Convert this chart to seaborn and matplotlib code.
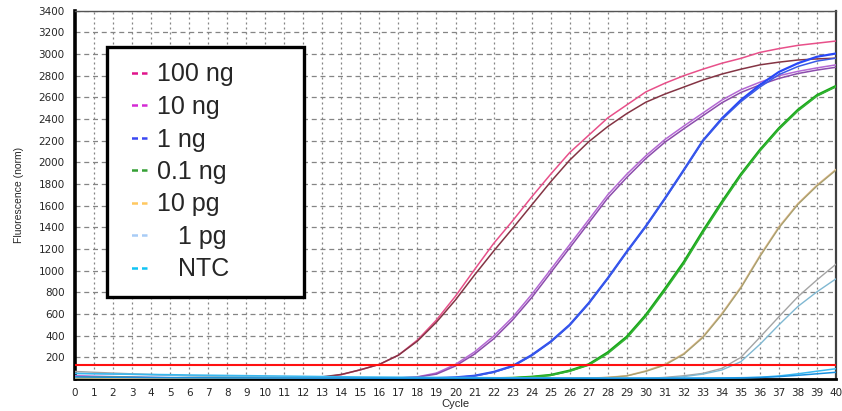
import matplotlib
matplotlib.use("Agg")
import matplotlib.pyplot as plt
from matplotlib.lines import Line2D
import seaborn as sns
import pandas as pd

# ---------------- data ----------------
cycles = list(range(41))

ng100_a = [18,15,12,10,9,8,7,6,6,5,5,6,8,15,40,85,135,220,360,545,765,1010,1250,1460,1680,1890,2090,2250,2410,2530,2650,2730,2800,2860,2915,2960,3015,3050,3080,3100,3120]
ng100_b = [25,20,16,13,11,9,8,7,6,6,6,7,10,20,42,85,135,220,350,525,730,960,1180,1390,1605,1820,2020,2190,2330,2450,2555,2630,2695,2760,2815,2860,2900,2925,2945,2955,2962]
ng10_a = [30,26,22,18,15,12,10,8,7,6,5,5,5,5,5,6,7,10,20,55,135,250,395,570,780,1010,1240,1470,1700,1890,2060,2210,2335,2455,2575,2670,2740,2800,2840,2872,2900]
ng10_b = [12,10,9,8,7,6,6,5,5,5,5,5,5,5,5,5,6,9,18,45,120,230,370,545,750,980,1210,1440,1670,1860,2035,2185,2310,2430,2550,2645,2715,2775,2820,2852,2878]
ng1_a = [10,9,8,7,6,6,5,5,5,5,5,5,5,5,5,5,5,5,6,8,15,30,65,120,220,345,500,700,930,1175,1410,1665,1930,2200,2405,2575,2715,2835,2915,2975,3005]
ng1_b = [8,7,7,6,6,5,5,5,5,5,5,5,5,5,5,5,5,5,6,8,14,28,62,115,215,340,495,695,925,1170,1405,1660,1925,2195,2395,2560,2695,2810,2885,2935,2962]
ng01_a = [15,13,11,9,8,7,6,6,5,5,5,5,5,5,5,5,5,5,5,5,5,5,6,10,20,37,77,135,245,390,590,830,1080,1365,1635,1890,2115,2315,2485,2620,2705]
ng01_b = [20,17,14,12,10,8,7,6,6,5,5,5,5,5,5,5,5,5,5,5,5,5,6,9,18,34,72,128,235,378,578,815,1065,1350,1620,1878,2105,2305,2475,2612,2698]
pg10_a = [10,9,8,7,6,6,5,5,5,5,5,5,5,5,5,5,5,5,5,5,5,5,5,5,5,5,5,8,15,30,75,135,235,390,605,850,1140,1405,1620,1790,1935]
pg10_b = [22,19,16,13,11,9,8,7,6,6,5,5,5,5,5,5,5,5,5,5,5,5,5,5,5,5,5,8,14,28,70,128,228,382,595,840,1130,1395,1612,1782,1928]
pg1_a = [70,62,55,48,42,36,31,27,23,20,18,16,14,12,11,10,9,8,8,7,7,6,6,6,6,5,5,5,5,5,5,15,30,52,98,200,385,575,760,915,1060]
pg1_b = [55,50,46,42,38,34,30,27,24,21,19,17,15,13,12,11,10,9,8,8,7,7,6,6,6,5,5,5,5,5,5,10,22,45,83,160,320,500,670,805,925]
ntc_a = [50,48,46,44,42,40,37,35,33,31,29,27,25,23,21,19,18,17,16,15,14,13,12,11,10,10,9,9,8,8,8,8,8,9,10,12,16,28,48,72,95]
ntc_b = [20,18,16,15,14,13,12,11,10,10,9,9,8,8,8,7,7,7,7,7,6,6,6,6,6,6,6,6,6,6,6,6,6,7,8,10,14,22,34,48,62]

threshold = 130

legend_labels = ["100 ng", "10 ng", "1 ng", "0.1 ng", "10 pg", "   1 pg", "   NTC"]
legend_colors = ["#e0158c", "#d42ad4", "#3a48f2", "#35a035", "#ffc860", "#a8ccf6", "#10c4f4"]

x_ticks = list(range(0, 41))
y_ticks = list(range(200, 3401, 200))

series = {
    "100ng_a": (ng100_a, "#e8508a", 1.1),
    "100ng_b": (ng100_b, "#843444", 1.1),
    "10ng_a": (ng10_a, "#b468d4", 1.1),
    "10ng_b": (ng10_b, "#8c4cac", 1.1),
    "1ng_a": (ng1_a, "#2848f8", 1.6),
    "1ng_b": (ng1_b, "#3a5ae6", 1.1),
    "0.1ng_a": (ng01_a, "#16a816", 1.7),
    "0.1ng_b": (ng01_b, "#34b234", 1.2),
    "10pg_a": (pg10_a, "#e2ba8a", 1.1),
    "10pg_b": (pg10_b, "#a8a070", 1.0),
    "1pg_a": (pg1_a, "#a4a4a4", 1.0),
    "1pg_b": (pg1_b, "#80b8d2", 1.0),
    "NTC_a": (ntc_a, "#38b8f0", 1.1),
    "NTC_b": (ntc_b, "#1890e0", 1.1),
}

rows = []
for name, (vals, _, _) in series.items():
    assert len(vals) == len(cycles), name
    for c, v in zip(cycles, vals):
        rows.append({"Cycle": c, "Fluorescence": v, "curve": name})
df = pd.DataFrame(rows)

# ---------------- figure ----------------
sns.set_style("white")
plt.rcParams["font.family"] = ["DejaVu Sans"]

fig = plt.figure(figsize=(8.42, 4.11), dpi=100)
W, H = 842, 411
ax = fig.add_axes([75 / W, 1 - 379 / H, (836 - 75) / W, (379 - 10.7) / H])

# grid
for yv in y_ticks:
    ax.axhline(yv, color="#858585", lw=0.9, ls=(0, (4, 3)), zorder=0)
for xv in x_ticks[1:]:
    ax.axvline(xv, color="#858585", lw=0.9, ls=(0, (1.6, 2.4)), zorder=0)

for name, (vals, col, lw) in series.items():
    sub = df[df["curve"] == name]
    sns.lineplot(data=sub, x="Cycle", y="Fluorescence", color=col, lw=lw,
                 ax=ax, legend=False, zorder=3)

ax.axhline(threshold, color="#ff1010", lw=1.5, zorder=4)

ax.set_xlim(0, 40)
ax.set_ylim(0, 3400)
ax.set_xticks(x_ticks)
ax.set_xticklabels([str(t) for t in x_ticks], fontsize=7.5)
ax.set_yticks(y_ticks)
ax.set_yticklabels([str(t) for t in y_ticks], fontsize=7.5)
ax.tick_params(axis="both", direction="out", length=3.5, width=0.8,
               color="#555555", pad=3)
ax.tick_params(axis="y", pad=4)

ax.set_xlabel("Cycle", fontsize=8, family="Liberation Sans", labelpad=1)
ax.set_ylabel("Fluorescence (norm)", fontsize=7.5, family="Liberation Sans",
              labelpad=10)

for side, col, lw in [("left", "black", 2.6), ("bottom", "black", 2.0),
                      ("right", "#404040", 1.6), ("top", "#555555", 1.0)]:
    ax.spines[side].set_visible(True)
    ax.spines[side].set_color(col)
    ax.spines[side].set_linewidth(lw)

# legend
handles = [Line2D([0], [0], color=c, lw=1.8,
                  ls=(6.4, (2.4, 1.6, 2.4, 3.4)), dash_capstyle="butt")
           for c in legend_colors]
x0 = (107 - 75) / 761
y1 = (379 - 47) / 368.3
wl = (304 - 107) / 761
hl = (293 - 47) / 368.3
leg = ax.legend(handles, legend_labels, loc="upper left", mode="expand",
                bbox_to_anchor=(x0, y1 - hl, wl, hl),
                borderaxespad=0, frameon=True, fancybox=False, shadow=False,
                prop={"family": "Liberation Sans", "size": 18},
                handlelength=0.98, handletextpad=0.4, labelspacing=0.34,
                borderpad=0.62, framealpha=1)
leg.get_frame().set_edgecolor("black")
leg.get_frame().set_linewidth(2.4)
leg.set_zorder(10)

fig.savefig("out.png", dpi=100)
